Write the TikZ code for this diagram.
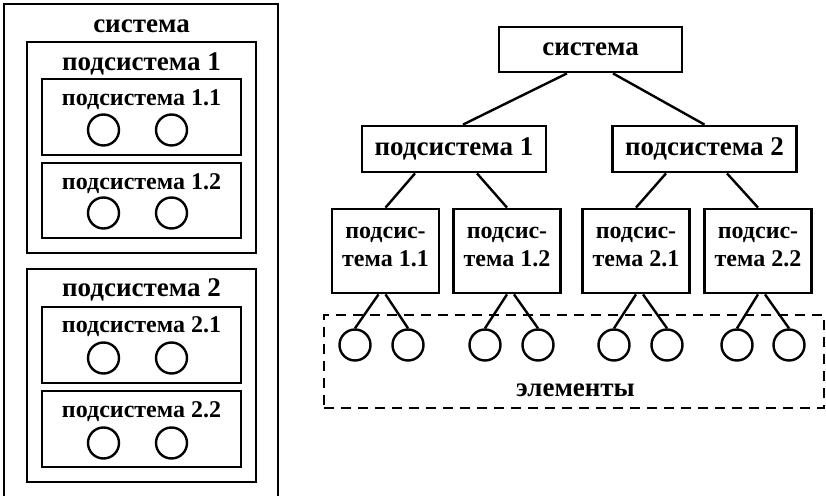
\documentclass[tikz,border=0pt]{standalone}
\usepackage{fontspec}
\setmainfont{Liberation Serif}
\usetikzlibrary{positioning}
\usetikzlibrary{calc}
\tikzset{
x=0.5pt, y=-0.5pt, % one unit is one pixel of the drawing
font=\fontsize{13.5}{13.5}\selectfont\bfseries, % bold serif text
smalltext/.style={font=\fontsize{12}{14}\selectfont\bfseries}, % text of the lower level
frame/.style={draw, line width=1.4pt, inner sep=0pt}, % plain box
boxnode/.style={frame, minimum width=92pt, minimum height=23pt}, % box of the tree
leaf/.style={frame, smalltext, align=center, minimum width=53.5pt, minimum height=42pt, text height=22pt, text depth=6pt}, % lower boxes
elem/.style={draw, circle, line width=1.2pt, minimum size=15.5pt, inner sep=0pt}, % an element
link/.style={line width=1.2pt}, % connector
title/.style={anchor=base, inner sep=0pt}, % title inside a frame
}

\begin{document}
\begin{tikzpicture}
    \useasboundingbox (0,0) rectangle (826,496);
    % nested view
    \node[frame, minimum width=137pt, minimum height=250.5pt] (lsys) at (141,254.5) {};
    \node[title] (lsyst) at (141.5,33) {система};
    \node[frame, minimum width=114.5pt, minimum height=105.5pt] (lsub1) at (141.5,147.5) {};
    \node[title] (lsub1t) at (141.5,71) {подсистема 1};
    \node[frame, minimum width=99.5pt, minimum height=38pt] (lsub11) at (141.5,117) {};
    \node[title, smalltext] (lsub11t) at (141.5,106) {подсистема 1.1};
    \node[elem] (l11a) at (103.5,130) {};
    \node[elem] (l11b) at (171.5,130) {};
    \node[frame, minimum width=99.5pt, minimum height=37.5pt] (lsub12) at (141.5,200.5) {};
    \node[title, smalltext] (lsub12t) at (141.5,190) {подсистема 1.2};
    \node[elem] (l12a) at (103.5,213) {};
    \node[elem] (l12b) at (171.5,213) {};
    \node[frame, minimum width=114.5pt, minimum height=106.5pt] (lsub2) at (141.5,375.5) {};
    \node[title] (lsub2t) at (141.5,297) {подсистема 2};
    \node[frame, minimum width=99.5pt, minimum height=38pt] (lsub21) at (141.5,345) {};
    \node[title, smalltext] (lsub21t) at (141.5,333) {подсистема 2.1};
    \node[elem] (l21a) at (103.5,358) {};
    \node[elem] (l21b) at (171.5,358) {};
    \node[frame, minimum width=99.5pt, minimum height=38pt] (lsub22) at (141.5,429) {};
    \node[title, smalltext] (lsub22t) at (141.5,418) {подсистема 2.2};
    \node[elem] (l22a) at (103.5,443) {};
    \node[elem] (l22b) at (171.5,443) {};

    % tree view
    \node[boxnode, minimum width=91.5pt, minimum height=22.5pt] (sys) at (590.5,49.5) {система};
    \node[boxnode] (sub1) at (454,149) {подсистема 1};
    \node[boxnode] (sub2) at (704.5,149) {подсистема 2};
    \node[leaf] (sub11) at (385.5,251) {подсис-\\тема 1.1};
    \node[leaf] (sub12) at (507,251) {подсис-\\тема 1.2};
    \node[leaf] (sub21) at (636,251) {подсис-\\тема 2.1};
    \node[leaf] (sub22) at (758,251) {подсис-\\тема 2.2};
    \node[draw, dashed, dash pattern=on 5pt off 3.5pt, line width=1.2pt, minimum width=250pt, minimum height=46.5pt] (elems) at (574,361.5) {};
    \node[title] (elemst) at (575.5,397) {элементы};
    \node[elem] (e11a) at (355,345) {};
    \node[elem] (e11b) at (408,345) {};
    \node[elem] (e12a) at (485,345) {};
    \node[elem] (e12b) at (538,345) {};
    \node[elem] (e21a) at (614,345) {};
    \node[elem] (e21b) at (667,345) {};
    \node[elem] (e22a) at (737,345) {};
    \node[elem] (e22b) at (789,345) {};
    \draw[link] ($(sys.south)+(-23.5,0)$) -- ($(sub1.north)+(9,0)$);
    \draw[link] ($(sys.south)+(22.5,0)$) -- (sub2.north);
    \draw[link] ($(sub1.south)+(-39,0)$) -- (sub11.north);
    \draw[link] ($(sub1.south)+(23,0)$) -- (sub12.north);
    \draw[link] ($(sub2.south)+(-38.5,0)$) -- (sub21.north);
    \draw[link] ($(sub2.south)+(22.5,0)$) -- (sub22.north);
    \draw[link] ($(sub11.south)+(-7,0)$) -- (e11a.north);
    \draw[link] ($(sub11.south)+(0,0)$) -- (e11b.north);
    \draw[link] ($(sub12.south)+(0,0)$) -- (e12a.north);
    \draw[link] ($(sub12.south)+(7,0)$) -- (e12b.north);
    \draw[link] ($(sub21.south)+(0,0)$) -- (e21a.north);
    \draw[link] ($(sub21.south)+(7,0)$) -- (e21b.north);
    \draw[link] ($(sub22.south)+(0,0)$) -- (e22a.north);
    \draw[link] ($(sub22.south)+(7,0)$) -- (e22b.north);
  \end{tikzpicture}
\end{document}
